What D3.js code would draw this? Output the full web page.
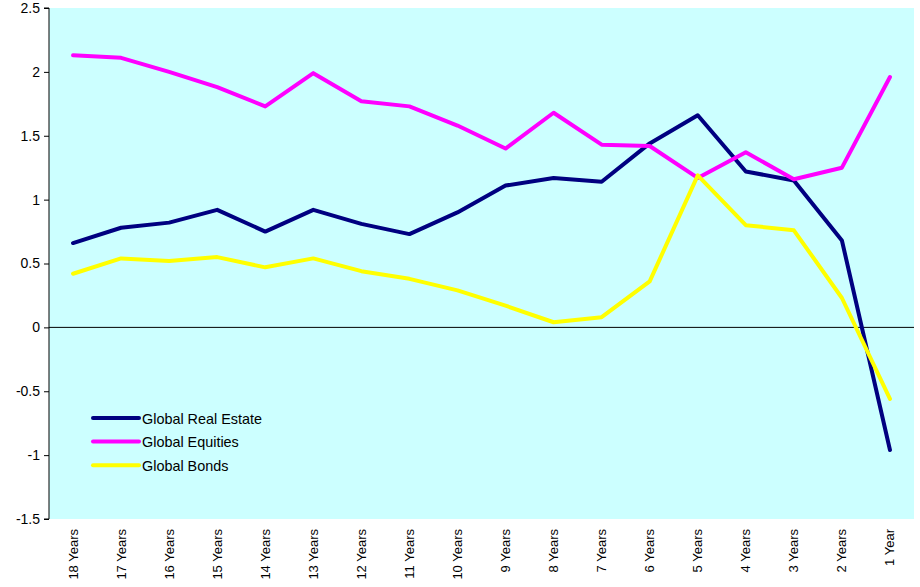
<!DOCTYPE html>
<html><head><meta charset="utf-8">
<script src="https://cdn.jsdelivr.net/npm/d3@7"></script>
<style>body{margin:0;background:#fff;} svg{display:block;font-family:"Liberation Sans",Arial,sans-serif;}</style>
</head><body>
<svg id="c" width="920" height="587"></svg>
<script>
const categories = ["18 Years","17 Years","16 Years","15 Years","14 Years","13 Years","12 Years","11 Years","10 Years","9 Years","8 Years","7 Years","6 Years","5 Years","4 Years","3 Years","2 Years","1 Year"];
const realEstate = [0.66,0.78,0.82,0.92,0.75,0.92,0.81,0.73,0.90,1.11,1.17,1.14,1.44,1.66,1.22,1.15,0.68,-0.96];
const equities   = [2.13,2.11,2.00,1.88,1.73,1.99,1.77,1.73,1.58,1.40,1.68,1.43,1.42,1.17,1.37,1.16,1.25,1.96];
const bonds      = [0.42,0.54,0.52,0.55,0.47,0.54,0.44,0.38,0.29,0.17,0.04,0.08,0.36,1.19,0.80,0.76,0.23,-0.56];
const seriesNames = ["Global Real Estate","Global Equities","Global Bonds"];
const seriesColors = ["#000080","#FF00FF","#FFFF00"];
const yTicks = [2.5,2,1.5,1,0.5,0,-0.5,-1,-1.5];

const svg = d3.select("#c");
const L = 49, R = 914, T = 8, B = 519;
const x = d3.scaleBand().domain(categories).range([L, R]);
const y = d3.scaleLinear().domain([-1.5, 2.5]).range([B, T]);
const FF = '"Liberation Sans",Arial,sans-serif';

svg.append("rect").attr("x", L).attr("y", T).attr("width", R - L).attr("height", B - T).attr("fill", "#CCFFFF");

// zero line
svg.append("line").attr("x1", L).attr("x2", R).attr("y1", y(0)).attr("y2", y(0)).attr("stroke", "#000").attr("stroke-width", 1);

// y axis
const ya = svg.append("g").attr("transform", `translate(${L},0)`)
  .call(d3.axisLeft(y).tickValues(yTicks).tickSize(5).tickPadding(4).tickFormat(d => String(d)));
ya.select(".domain").attr("stroke", "#000").attr("d", `M-5,${T}H0V${B}H-5`);
ya.selectAll("text").attr("font-size", 14).attr("fill", "#000").attr("font-family", FF);

// x labels
const xa = svg.append("g").attr("transform", `translate(0,${B})`)
  .call(d3.axisBottom(x).tickSize(0).tickPadding(0));
xa.select(".domain").remove();
xa.selectAll("text")
  .attr("font-size", 13).attr("fill", "#000").attr("font-family", FF)
  .attr("text-anchor", "end").attr("dy", null)
  .attr("transform", "translate(4.5,10) rotate(-90)");

const data = [realEstate, equities, bonds];
const line = d3.line().x((d, i) => x(categories[i]) + x.bandwidth() / 2).y(d => y(d));
data.forEach((s, k) => {
  svg.append("path").datum(s).attr("d", line).attr("fill", "none")
    .attr("stroke", seriesColors[k]).attr("stroke-width", 4).attr("stroke-linejoin", "round").attr("stroke-linecap", "round");
});

// legend
const lg = svg.append("g");
seriesNames.forEach((n, k) => {
  const yy = 418 + k * 23.6;
  lg.append("line").attr("x1", 93).attr("x2", 139).attr("y1", yy).attr("y2", yy)
    .attr("stroke", seriesColors[k]).attr("stroke-width", 4).attr("stroke-linecap", "round");
  lg.append("text").attr("x", 142).attr("y", yy + 5.5).attr("font-size", 14.4).attr("fill", "#000").attr("font-family", FF).text(n);
});
</script>
</body></html>
